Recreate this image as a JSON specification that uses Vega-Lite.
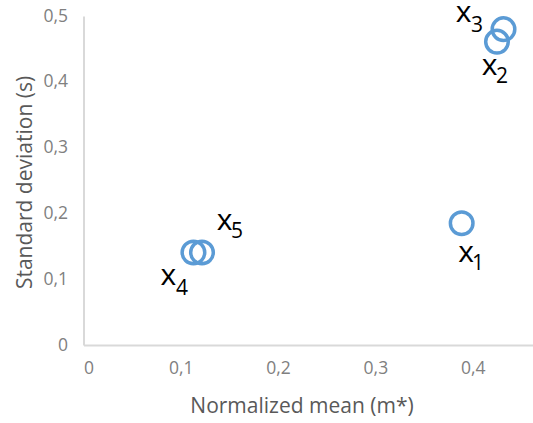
{
  "$schema": "https://vega.github.io/schema/vega-lite/v6.json",
  "autosize": "none",
  "padding": {"left": 83.5, "top": 16, "right": 0.5, "bottom": 78},
  "width": 449,
  "height": 329,
  "background": "white",
  "config": {
    "view": {"stroke": null},
    "font": "Open Sans",
    "axis": {
      "grid": false,
      "ticks": false,
      "domainColor": "#d9d9d9",
      "domainWidth": 2,
      "labelColor": "#808080",
      "labelFont": "Open Sans",
      "labelFontSize": 17.5,
      "titleColor": "#595959",
      "titleFont": "Open Sans",
      "titleFontSize": 21,
      "titleFontWeight": "normal"
    }
  },
  "data": {
    "values": [
      {"m": 0.3887, "s": 0.185, "name": "x", "idx": "1"},
      {"m": 0.4317, "s": 0.480, "name": "x", "idx": "3"},
      {"m": 0.425, "s": 0.461, "name": "x", "idx": "2"},
      {"m": 0.113, "s": 0.1406, "name": "x", "idx": "4"},
      {"m": 0.1218, "s": 0.1406, "name": "x", "idx": "5"}
    ]
  },
  "encoding": {
    "x": {
      "field": "m",
      "type": "quantitative",
      "scale": {"domain": [0, 0.4615], "nice": false, "zero": true},
      "axis": {
        "values": [0, 0.1, 0.2, 0.3, 0.4],
        "format": "~g",
        "labelExpr": "replace(datum.label, '.', ',')",
        "labelPadding": 14,
        "title": "Normalized mean (m*)",
        "titleX": 218,
        "titleY": 67,
        "titleBaseline": "alphabetic",
        "titleAlign": "center"
      }
    },
    "y": {
      "field": "s",
      "type": "quantitative",
      "scale": {"domain": [0, 0.5], "nice": false},
      "axis": {
        "values": [0, 0.1, 0.2, 0.3, 0.4, 0.5],
        "format": "~g",
        "labelExpr": "replace(datum.label, '.', ',')",
        "labelPadding": 16,
        "title": "Standard deviation (s)",
        "titleX": -58,
        "titleY": 166,
        "titleAngle": 270,
        "titleAlign": "center",
        "titleBaseline": "middle"
      }
    }
  },
  "layer": [
    {
      "mark": {"type": "point", "shape": "circle", "filled": false, "size": 510, "strokeWidth": 3.5, "color": "#5B9BD5", "opacity": 1}
    },
    {"transform": [{"filter": "datum.idx == '1'"}], "mark": {"type": "text", "font": "Open Sans", "fontSize": 30, "color": "#000000", "align": "center", "baseline": "alphabetic", "dx": 4.3, "dy": 38.7}, "encoding": {"text": {"field": "name"}}},
    {"transform": [{"filter": "datum.idx == '1'"}], "mark": {"type": "text", "font": "Open Sans", "fontSize": 21, "color": "#000000", "align": "center", "baseline": "alphabetic", "dx": 16.3, "dy": 46.7}, "encoding": {"text": {"field": "idx"}}},
    {"transform": [{"filter": "datum.idx == '2'"}], "mark": {"type": "text", "font": "Open Sans", "fontSize": 30, "color": "#000000", "align": "center", "baseline": "alphabetic", "dx": -7.5, "dy": 33.5}, "encoding": {"text": {"field": "name"}}},
    {"transform": [{"filter": "datum.idx == '2'"}], "mark": {"type": "text", "font": "Open Sans", "fontSize": 21, "color": "#000000", "align": "center", "baseline": "alphabetic", "dx": 5, "dy": 41.5}, "encoding": {"text": {"field": "idx"}}},
    {"transform": [{"filter": "datum.idx == '3'"}], "mark": {"type": "text", "font": "Open Sans", "fontSize": 30, "color": "#000000", "align": "center", "baseline": "alphabetic", "dx": -40, "dy": -7}, "encoding": {"text": {"field": "name"}}},
    {"transform": [{"filter": "datum.idx == '3'"}], "mark": {"type": "text", "font": "Open Sans", "fontSize": 21, "color": "#000000", "align": "center", "baseline": "alphabetic", "dx": -26.5, "dy": 3}, "encoding": {"text": {"field": "idx"}}},
    {"transform": [{"filter": "datum.idx == '4'"}], "mark": {"type": "text", "font": "Open Sans", "fontSize": 30, "color": "#000000", "align": "center", "baseline": "alphabetic", "dx": -25, "dy": 32.5}, "encoding": {"text": {"field": "name"}}},
    {"transform": [{"filter": "datum.idx == '4'"}], "mark": {"type": "text", "font": "Open Sans", "fontSize": 21, "color": "#000000", "align": "center", "baseline": "alphabetic", "dx": -11.5, "dy": 42.5}, "encoding": {"text": {"field": "idx"}}},
    {"transform": [{"filter": "datum.idx == '5'"}], "mark": {"type": "text", "font": "Open Sans", "fontSize": 30, "color": "#000000", "align": "center", "baseline": "alphabetic", "dx": 22.5, "dy": -22.5}, "encoding": {"text": {"field": "name"}}},
    {"transform": [{"filter": "datum.idx == '5'"}], "mark": {"type": "text", "font": "Open Sans", "fontSize": 21, "color": "#000000", "align": "center", "baseline": "alphabetic", "dx": 35, "dy": -14.5}, "encoding": {"text": {"field": "idx"}}}
  ]
}
